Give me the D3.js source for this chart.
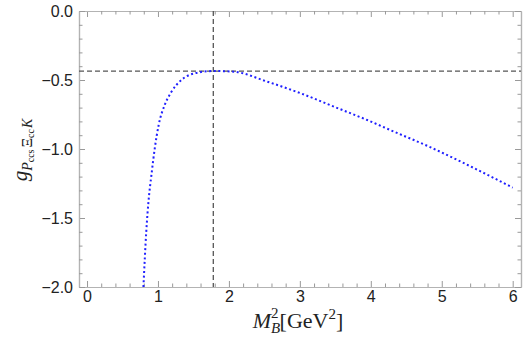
<!DOCTYPE html>
<html>
<head>
<meta charset="utf-8">
<script src="https://cdn.jsdelivr.net/npm/d3@7"></script>
<style>
  body { margin: 0; background: #fff; }
  .tick text { font-family: "Liberation Sans", Arial, sans-serif; font-size: 16px; fill: #222; }
</style>
</head>
<body>
<div id="chart"></div>
<script>
/* data */
var massSq = [0.795, 0.835, 0.87, 0.908, 0.955, 1.01, 1.095, 1.19, 1.33, 1.52, 1.78, 2.07, 2.54, 3.01, 3.48, 3.95, 4.33, 4.8, 5.27, 6.0];
var coupling = [-2.0, -1.6, -1.36, -1.188, -0.995, -0.826, -0.681, -0.585, -0.50, -0.451, -0.435, -0.44, -0.512, -0.596, -0.693, -0.79, -0.875, -0.978, -1.092, -1.28];
var peakX = [1.78];
var peakY = [-0.435];
var xTicks = [0, 1, 2, 3, 4, 5, 6];
var yTicks = [-2.0, -1.5, -1.0, -0.5, 0.0];

var W = 523, H = 345;
var margin = { top: 11, right: 2, bottom: 58, left: 79 },
    width = W - margin.left - margin.right,
    height = H - margin.top - margin.bottom;

var svg = d3.select("#chart")
    .append("svg")
    .attr("width", W)
    .attr("height", H)
    .append("g")
    .attr("transform", "translate(" + margin.left + "," + margin.top + ")");

var x = d3.scaleLinear()
    .domain([-0.113, 6.117])
    .range([0, width]);

var y = d3.scaleLinear()
    .domain([-2, 0])
    .range([height, 0]);

// minor tick positions
var xMinor = d3.range(0, 6.01, 0.2).filter(function (v) { return Math.abs(v - Math.round(v)) > 1e-6; });
var yMinor = d3.range(-2, 0.001, 0.1).filter(function (v) { return Math.abs(v * 2 - Math.round(v * 2)) > 1e-6; });

function styleAxis(g) {
    g.select(".domain").attr("stroke", "#b3b3b3").attr("stroke-width", 1.2);
    g.selectAll(".tick line").attr("stroke", "#999");
}

// bottom
svg.append("g")
    .attr("transform", "translate(0," + height + ")")
    .call(d3.axisBottom(x).tickValues(xTicks).tickSize(-6).tickPadding(4).tickFormat(d3.format("d")).tickSizeOuter(0))
    .call(styleAxis);
svg.append("g")
    .attr("transform", "translate(0," + height + ")")
    .call(d3.axisBottom(x).tickValues(xMinor).tickSize(-3.5).tickFormat("").tickSizeOuter(0))
    .call(styleAxis);
// top
svg.append("g")
    .call(d3.axisTop(x).tickValues(xTicks).tickSize(-6).tickFormat("").tickSizeOuter(0))
    .call(styleAxis);
svg.append("g")
    .call(d3.axisTop(x).tickValues(xMinor).tickSize(-3.5).tickFormat("").tickSizeOuter(0))
    .call(styleAxis);
// left
svg.append("g")
    .call(d3.axisLeft(y).tickValues(yTicks).tickSize(-6).tickPadding(6).tickFormat(d3.format(".1f")).tickSizeOuter(0))
    .call(styleAxis);
svg.append("g")
    .call(d3.axisLeft(y).tickValues(yMinor).tickSize(-3.5).tickFormat("").tickSizeOuter(0))
    .call(styleAxis);
// right
svg.append("g")
    .attr("transform", "translate(" + width + ",0)")
    .call(d3.axisRight(y).tickValues(yTicks).tickSize(-6).tickFormat("").tickSizeOuter(0))
    .call(styleAxis);
svg.append("g")
    .attr("transform", "translate(" + width + ",0)")
    .call(d3.axisRight(y).tickValues(yMinor).tickSize(-3.5).tickFormat("").tickSizeOuter(0))
    .call(styleAxis);

// reference lines through the maximum
svg.append("line")
    .attr("x1", 0).attr("x2", width)
    .attr("y1", y(peakY[0])).attr("y2", y(peakY[0]))
    .attr("stroke", "#555").attr("stroke-width", 1.3)
    .attr("stroke-dasharray", "5,3");
svg.append("line")
    .attr("x1", x(peakX[0])).attr("x2", x(peakX[0]))
    .attr("y1", 0).attr("y2", height)
    .attr("stroke", "#555").attr("stroke-width", 1.3)
    .attr("stroke-dasharray", "5,3");

// the curve
var pts = massSq.map(function (d, i) { return { m: d, g: coupling[i] }; });
svg.append("path")
    .datum(pts)
    .attr("fill", "none")
    .attr("stroke", "#2020ff")
    .attr("stroke-width", 2)
    .attr("stroke-dasharray", "2,2.6")
    .attr("d", d3.line()
        .x(function (d) { return x(d.m) })
        .y(function (d) { return y(d.g) })
        .curve(d3.curveMonotoneX)
    );

// x label
var xl = d3.select("svg").append("text")
    .attr("x", 298).attr("y", 328)
    .attr("text-anchor", "middle")
    .style("font-family", "'Liberation Serif', 'Times New Roman', serif")
    .style("font-size", "22px")
    .attr("fill", "#222");
xl.append("tspan").style("font-style", "italic").text("M");
var sub = xl.append("tspan").style("font-style", "italic").style("font-size", "15px").attr("dy", 5).text("B");
var subW = sub.node().getComputedTextLength();
xl.append("tspan").style("font-size", "15px").attr("dx", -subW).attr("dy", -15).text("2");
xl.append("tspan").attr("dx", 1).attr("dy", 10).text("[GeV");
xl.append("tspan").style("font-size", "15px").attr("dy", -9).text("2");
xl.append("tspan").attr("dy", 9).text("]");

// y label
var yl = d3.select("svg").append("text")
    .attr("transform", "translate(27,150) rotate(-90)")
    .attr("text-anchor", "middle")
    .style("font-family", "'Liberation Serif', 'Times New Roman', serif")
    .style("font-size", "21px")
    .attr("fill", "#222");
yl.append("tspan").style("font-style", "italic").text("g");
yl.append("tspan").style("font-style", "italic").style("font-size", "14px").attr("dy", 5).text("P");
yl.append("tspan").style("font-size", "10px").attr("dy", 2).text("ccs");
yl.append("tspan").style("font-size", "15px").attr("dx", 2).attr("dy", -2).text("Ξ");
yl.append("tspan").style("font-size", "10px").attr("dy", 2).text("cc");
yl.append("tspan").style("font-style", "italic").style("font-size", "14px").attr("dx", 1).attr("dy", -2).text("K");
</script>
</body>
</html>
